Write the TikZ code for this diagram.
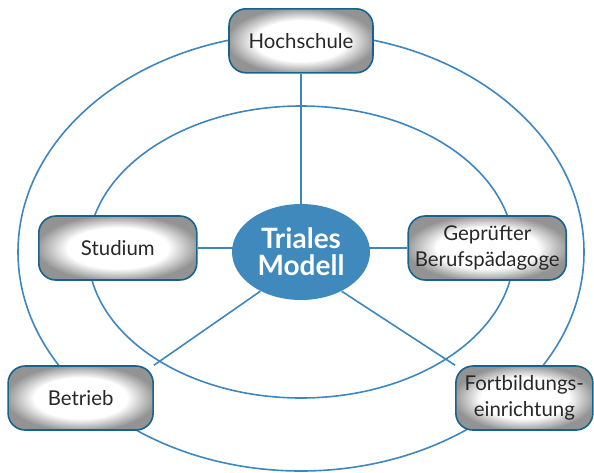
\documentclass[tikz,border=0pt]{standalone}
\usepackage{fontspec}
\setmainfont{Lato}
\usetikzlibrary{positioning, backgrounds, shapes.geometric}
\definecolor{ringblue}{RGB}{62,135,190}
\definecolor{modelblue}{RGB}{64,137,189}
\definecolor{boxrim}{RGB}{22,100,140}
\definecolor{boxtext}{RGB}{40,40,40}
\pgfdeclareradialshading{boxshade}{\pgfpoint{0bp}{0bp}}{color(0bp)=(white); color(16bp)=(white); color(23bp)=(gray!60); color(26bp)=(gray!85); color(50bp)=(gray!85)}

\begin{document}
\begin{tikzpicture}[
		x=0.5pt, y=-0.5pt,
		texts/.style = {text=boxtext, font=\fontsize{10.2}{13}\selectfont},
		ringline/.style = {draw=ringblue, line width=0.8pt},
		spokeline/.style = {draw=ringblue, line width=0.8pt},
		placenode/.style = {texts, rounded corners=8.5pt, draw=boxrim, line width=0.8pt, shade, shading=boxshade, minimum height=32pt, inner sep=2pt, align=center},
		modelnode/.style = {ellipse, fill=modelblue, text=white, font=\fontsize{14}{13.5}\selectfont\bfseries, minimum width=69pt, minimum height=48pt, inner sep=0pt, align=center}
		]
		\useasboundingbox (0,0) rectangle (594,472);
		\node [modelnode] (model) at (301,252) {Triales\\Modell};
		\node [placenode, minimum width=72pt, above = 65pt of model] (hochschule) {Hochschule};
		\node [placenode, minimum width=79pt, left = 17pt of model, yshift=2pt] (studium) {Studium};
		\node [placenode, minimum width=79pt, right = 18.5pt of model, yshift=2pt] (gepruefter) {Geprüfter\\Berufspädagoge};
		\node [placenode, minimum width=72.5pt, below left = 39.5pt and 49pt of model] (betrieb) {Betrieb};
		\node [placenode, minimum width=68.5pt, below right = 39.5pt and 52.5pt of model] (fortbildung) {Fortbildungs-\\einrichtung};
		
		\begin{scope}[on background layer]
		\draw[ringline] (model.center) ellipse [x radius=283, y radius=219];
		\draw[ringline] (model.center) ellipse [x radius=213, y radius=146];
		
		\draw[spokeline, -] (model) -- (hochschule);
		\draw[spokeline, -] (studium) -- (studium -| model);
		\draw[spokeline, -] (gepruefter) -- (gepruefter -| model);
		\draw[spokeline, -] (model.224) -- (betrieb.north east);
		\draw[spokeline, -] (model.316) -- (fortbildung.north west);
		\end{scope}
		
		\end{tikzpicture}
\end{document}
